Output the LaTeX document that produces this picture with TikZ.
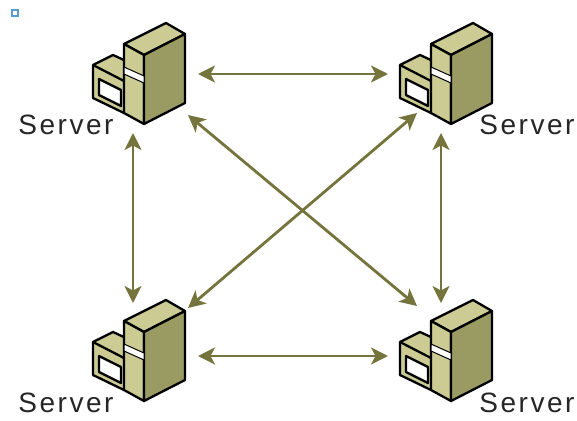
\documentclass[tikz,border=0pt]{standalone}
\usepackage{fontspec}
\setmainfont{Liberation Sans}
\usetikzlibrary{arrows.meta}
\definecolor{tanl}{HTML}{CBCB93}
\definecolor{tand}{HTML}{9A9A63}
\definecolor{olv}{HTML}{74743C}
\definecolor{blu}{HTML}{5B9BD5}
\newfontfamily\lblfont[LetterSpace=9]{Liberation Sans}
\tikzset{
  x=1pt,y=-1pt,
  edge/.style={draw=black,line width=2.3pt,line join=round},
  conn/.style={draw=olv,line width=2.8pt,{Stealth[length=17pt,width=17pt,inset=4.5pt]}-{Stealth[length=17pt,width=17pt,inset=4.5pt]}},
  lbl/.style={font=\lblfont\fontsize{28pt}{28pt}\selectfont,text=black!85,inner sep=0pt,anchor=center},
  server/.pic={
    \path[edge,fill=tanl] (93,65)--(113,55)--(126,61)--(126,88)--(124,113)--(93,98)--cycle;
    \path[edge,fill=tanl] (93,65)--(124,81);
    \path[edge,fill=white] (99,79)--(121,90)--(121,106)--(99,95)--cycle;
    \path[edge,fill=tanl] (124,44)--(166,23)--(185,34)--(144,55)--cycle;
    \path[edge,fill=tanl] (124,44)--(144,55)--(144,124)--(124,113)--cycle;
    \path[edge,fill=tand] (144,55)--(185,34)--(185,103)--(144,124)--cycle;
    \path[fill=white,draw=black,line width=1pt] (124,67)--(144,76)--(144,83)--(124,74)--cycle;
  }
}
\begin{document}
\begin{tikzpicture}
\useasboundingbox (0,0) rectangle (577,420);
\fill[white] (0,0) rectangle (577,420);
\node[draw=blu,fill=white,line width=1.6pt,minimum size=6.5pt,inner sep=0pt] (mark) at (15,13) {};
\pic at (0,0) {server};
\pic at (307,0) {server};
\pic at (0,277) {server};
\pic at (307,277) {server};
\node[lbl] (s1) at (66,125) {Server};
\node[lbl] (s2) at (527,125) {Server};
\node[lbl] (s3) at (66,403) {Server};
\node[lbl] (s4) at (527,403) {Server};
\coordinate (a1) at (198,74);   \coordinate (a2) at (388,74);
\coordinate (b1) at (198,356);  \coordinate (b2) at (388,356);
\coordinate (c1) at (133,133);  \coordinate (c2) at (133,303);
\coordinate (d1) at (441,133);  \coordinate (d2) at (441,303);
\coordinate (e1) at (188,115);  \coordinate (e2) at (417,306);
\coordinate (f1) at (417,113);  \coordinate (f2) at (188,308);
\draw[conn] (a1)--(a2);
\draw[conn] (b1)--(b2);
\draw[conn] (c1)--(c2);
\draw[conn] (d1)--(d2);
\draw[conn] (e1)--(e2);
\draw[conn] (f1)--(f2);
\end{tikzpicture}
\end{document}
